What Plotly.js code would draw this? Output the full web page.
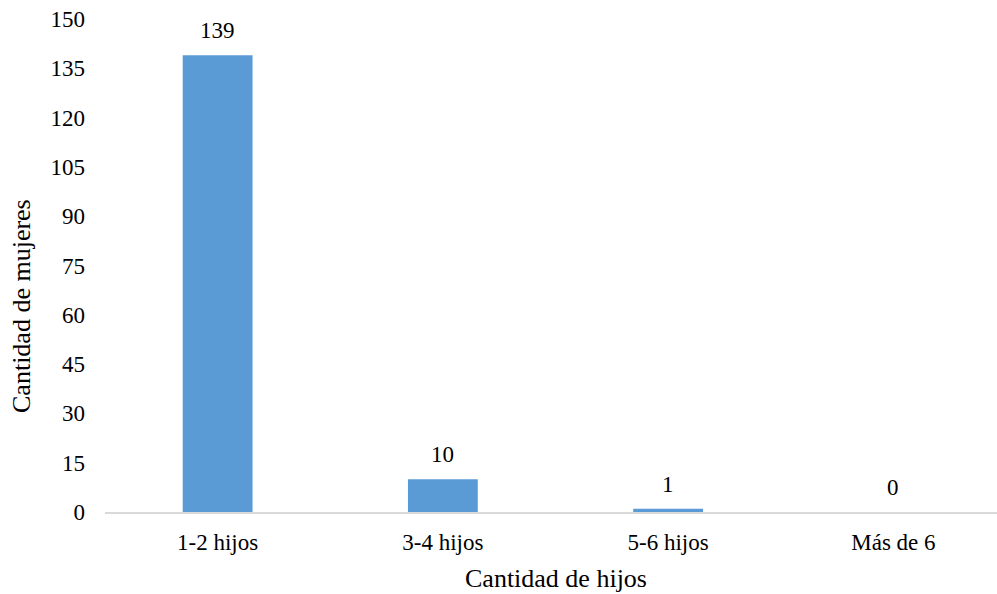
<!DOCTYPE html>
<html>
<head>
<meta charset="utf-8">
<script src="https://cdn.plot.ly/plotly-3.0.1.min.js"></script>
<style>html,body{margin:0;padding:0;background:#fff;}#chart{width:997px;height:594px;}</style>
</head>
<body>
<div id="chart"></div>
<script>
const categories = ["1-2 hijos", "3-4 hijos", "5-6 hijos", "Más de 6"];
const values = [139, 10, 1, 0];
const yTicks = [0, 15, 30, 45, 60, 75, 90, 105, 120, 135, 150];
const xTitle = "Cantidad de hijos";
const yTitle = "Cantidad de mujeres";

const FONT = "Liberation Serif, Times New Roman, serif";

const trace = {
  type: "bar",
  x: categories,
  y: values,
  width: 0.31,
  marker: {color: "#5B9BD5"},
  hoverinfo: "x+y"
};

const annotations = categories.map((c, i) => ({
  x: c, y: values[i], xref: "x", yref: "y",
  text: String(values[i]), showarrow: false,
  yanchor: "bottom", yshift: 10,
  font: {family: FONT, size: 23, color: "#000"}
}));
annotations.push({
  xref: "paper", yref: "paper", x: 0.506, y: -0.134,
  xanchor: "center", yanchor: "middle", showarrow: false,
  text: xTitle, font: {family: FONT, size: 26, color: "#000"}
});
annotations.push({
  xref: "paper", yref: "paper", x: -0.093, y: 0.418,
  xanchor: "center", yanchor: "middle", showarrow: false, textangle: -90,
  text: yTitle, font: {family: FONT, size: 26, color: "#000"}
});

const layout = {
  width: 997, height: 594,
  margin: {l: 105, r: 0, t: 19, b: 82},
  paper_bgcolor: "#fff", plot_bgcolor: "#fff",
  showlegend: false,
  font: {family: FONT, size: 23, color: "#000"},
  xaxis: {
    type: "category",
    range: [-0.5, 3.46],
    showgrid: false, zeroline: false,
    showline: true, linecolor: "#D9D9D9", linewidth: 2,
    ticks: "", ticklabelstandoff: 8,
    tickfont: {family: FONT, size: 23, color: "#000"}
  },
  yaxis: {
    range: [0, 150],
    tickvals: yTicks,
    showgrid: false, zeroline: false, showline: false,
    ticks: "", ticklabelstandoff: 19,
    tickfont: {family: FONT, size: 23, color: "#000"}
  },
  annotations: annotations
};

Plotly.newPlot("chart", [trace], layout, {displayModeBar: false, staticPlot: true});
</script>
</body>
</html>
